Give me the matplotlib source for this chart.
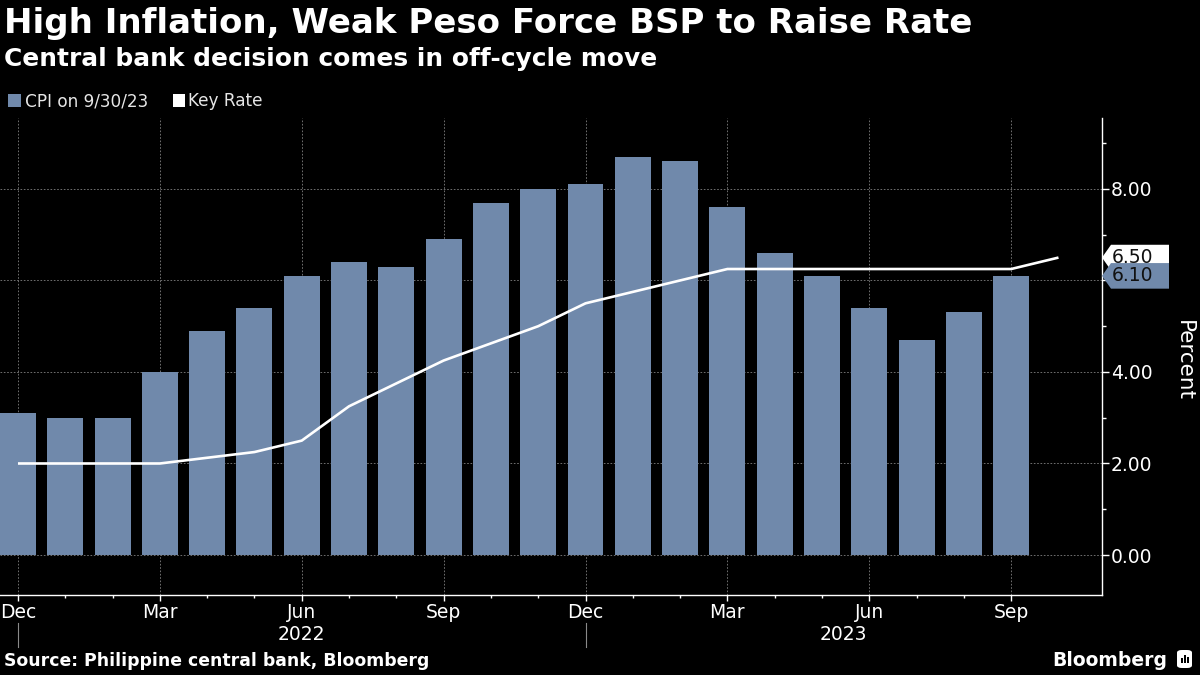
import matplotlib
matplotlib.use("Agg")
import matplotlib.pyplot as plt
import matplotlib.transforms as mtransforms
from matplotlib.patches import Polygon, Rectangle, FancyBboxPatch
from matplotlib.lines import Line2D
import pandas as pd

# ---------------- data ----------------
cpi_start = "2021-12"
cpi_values = [3.1, 3.0, 3.0, 4.0, 4.9, 5.4, 6.1, 6.4, 6.3, 6.9, 7.7, 8.0,
              8.1, 8.7, 8.6, 7.6, 6.6, 6.1, 5.4, 4.7, 5.3, 6.1]
key_rate_months = ["2021-12", "2022-03", "2022-05", "2022-06", "2022-07", "2022-08",
                   "2022-09", "2022-11", "2022-12", "2023-02", "2023-03", "2023-09",
                   "2023-10"]
key_rate_values = [2.0, 2.0, 2.25, 2.5, 3.25, 3.75, 4.25, 5.0, 5.5, 6.0, 6.25, 6.25, 6.5]
y_ticks = [0, 2, 4, 6, 8]
y_ticklabels = ["0.00", "2.00", "4.00", "", "8.00"]
year_labels = ["2022", "2023"]
last_cpi_label = "6.10"
last_rate_label = "6.50"

title = "High Inflation, Weak Peso Force BSP to Raise Rate"
subtitle = "Central bank decision comes in off-cycle move"
source = "Source: Philippine central bank, Bloomberg"

# ---------------- helpers ----------------
start = pd.Period(cpi_start, freq="M")
cpi_periods = [start + i for i in range(len(cpi_values))]
cpi_x = [(p - start).n for p in cpi_periods]
kr_x = [(pd.Period(m, freq="M") - start).n for m in key_rate_months]

BAR = "#7089ab"
W, H = 1200, 675

def fx(px):
    return px / W

def fy(py):
    return 1 - py / H

plt.rcParams["font.family"] = ["DejaVu Sans"]
fig = plt.figure(figsize=(12, 6.75), dpi=100, facecolor="black")
ax_l, ax_r, ax_t, ax_b = 0, 1102, 118, 595
ax = fig.add_axes([fx(ax_l), fy(ax_b), fx(ax_r - ax_l), (ax_b - ax_t) / H])
ax.set_facecolor("black")

ax.bar(cpi_x, cpi_values, width=0.76, color=BAR, zorder=2)
ax.plot(kr_x, key_rate_values, color="white", lw=1.9, zorder=3,
        solid_joinstyle="round", solid_capstyle="butt")

ax.set_xlim(-0.38, 22.92)
ax.set_ylim(-0.874, 9.55)

# grid
ax.set_yticks(y_ticks)
ax.set_yticklabels(y_ticklabels)
ax.set_yticks([1, 3, 5, 7, 9], minor=True)
major_x = [i for i, p in enumerate(cpi_periods) if p.month in (12, 3, 6, 9)]
ax.set_xticks(major_x)
ax.set_xticklabels([cpi_periods[i].strftime("%b") for i in major_x])
ax.set_xticks(cpi_x, minor=True)
ax.grid(True, which="major", color="#808080", lw=0.6, ls=(0, (2, 2)), zorder=1)

ax.yaxis.tick_right()
for s in ("top", "left"):
    ax.spines[s].set_visible(False)
for s in ("right", "bottom"):
    ax.spines[s].set_color("white")
    ax.spines[s].set_linewidth(1.0)

ax.tick_params(axis="y", which="major", length=5, width=1, color="white",
               labelcolor="white", labelsize=13.5, pad=1.5, right=True, left=False)
ax.tick_params(axis="y", which="minor", length=3, width=1, color="white",
               right=True, left=False)
ax.tick_params(axis="x", which="major", length=4.5, width=1, color="white",
               labelcolor="white", labelsize=13.5, pad=1.0)
ax.tick_params(axis="x", which="minor", length=2.5, width=1, color="white")

# year separators and labels
bt = mtransforms.blended_transform_factory(ax.transData, fig.transFigure)
dec_idx = [i for i, p in enumerate(cpi_periods) if p.month == 12]
for i in dec_idx:
    fig.add_artist(Line2D([i, i], [fy(623), fy(647)], transform=bt,
                          color="#8a8a8a", lw=0.8))
bounds = dec_idx + [ax.get_xlim()[1]]
for k, lab in enumerate(year_labels):
    xc = (bounds[k] + bounds[k + 1]) / 2
    fig.text(xc, fy(635), lab, transform=bt, ha="center", va="center",
             color="white", fontsize=13.5)

# last value tags
yt = ax.get_yaxis_transform()
ppu = (ax_b - ax_t) / (ax.get_ylim()[1] - ax.get_ylim()[0])
half = 12.8 / ppu
tip = 9 / (ax_r - ax_l)
right = (1169 - ax_l) / (ax_r - ax_l)

def tag(yv, face, text_color, label, z):
    poly = Polygon([[1.0, yv], [1.0 + tip, yv + half], [right, yv + half],
                    [right, yv - half], [1.0 + tip, yv - half]],
                   closed=True, transform=yt, facecolor=face, edgecolor="none",
                   clip_on=False, zorder=z)
    ax.add_patch(poly)
    ax.text(1.0 + tip + 1.0 / (ax_r - ax_l), yv, label, transform=yt,
            ha="left", va="center", color=text_color, fontsize=13.5,
            clip_on=False, zorder=z + 0.5)

tag(key_rate_values[-1], "white", "#111111", last_rate_label, 10)
tag(cpi_values[-1], BAR, "#111111", last_cpi_label, 12)

# axis label
fig.text(fx(1184), fy(360), "Percent", rotation=-90, ha="center", va="center",
         color="white", fontsize=15.5)

# titles
fig.text(fx(4), fy(24), title, ha="left", va="center", color="white",
         fontsize=24.5, fontweight="bold")
fig.text(fx(4), fy(59), subtitle, ha="left", va="center", color="white",
         fontsize=17.9, fontweight="bold")

# legend
fig.add_artist(Rectangle((fx(8), fy(107)), fx(13), 13 / H, transform=fig.transFigure,
                         facecolor=BAR, edgecolor="none"))
fig.text(fx(25), fy(101), "CPI on 9/30/23", ha="left", va="center",
         color="#e6e6e6", fontsize=12.2)
fig.add_artist(Rectangle((fx(173), fy(107)), fx(12), 13 / H, transform=fig.transFigure,
                         facecolor="white", edgecolor="none"))
fig.text(fx(188), fy(101), "Key Rate", ha="left", va="center",
         color="#e6e6e6", fontsize=12.2)

# footer
fig.text(fx(4), fy(661), source, ha="left", va="center", color="white",
         fontsize=12.4, fontweight="bold")
fig.text(fx(1167), fy(660), "Bloomberg", ha="right", va="center", color="white",
         fontsize=13.5, fontweight="bold")
fig.add_artist(FancyBboxPatch((fx(1177), fy(668)), fx(15), 18 / H,
                              boxstyle="round,pad=0,rounding_size=0.004",
                              transform=fig.transFigure, facecolor="white",
                              edgecolor="none"))
for bx, bh in [(1181, 5), (1184, 8), (1187, 6)]:
    fig.add_artist(Rectangle((fx(bx), fy(663)), fx(1.6), bh / H,
                             transform=fig.transFigure, facecolor="black",
                             edgecolor="none"))

fig.savefig("out.png", dpi=100, facecolor="black")
